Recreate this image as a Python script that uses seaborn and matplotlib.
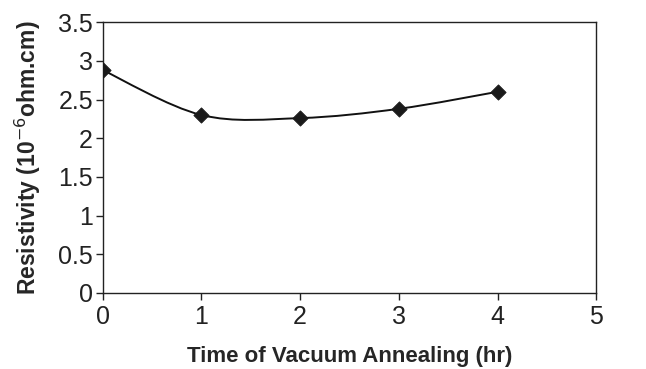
import numpy as np
import pandas as pd
import matplotlib
matplotlib.use("Agg")
import matplotlib.pyplot as plt
from matplotlib.path import Path
from matplotlib.patches import PathPatch
import seaborn as sns

hours = [0, 1, 2, 3, 4]
resistivity = [2.88, 2.30, 2.26, 2.38, 2.60]
x_ticks = [0, 1, 2, 3, 4, 5]
y_ticks = [0, 0.5, 1, 1.5, 2, 2.5, 3, 3.5]
y_tick_labels = ["0", "0.5", "1", "1.5", "2", "2.5", "3", "3.5"]

sns.set_style("white")
plt.rcParams["font.family"] = ["Liberation Sans", "DejaVu Sans"]

df = pd.DataFrame({"t": hours, "r": resistivity})

fig = plt.figure(figsize=(6.46, 3.69), dpi=100)
ax = fig.add_axes([0.159, 0.206, 0.764, 0.734])

# Smoothed connecting line (Excel-style Bezier through points)
xs = np.array(hours, float)
ys = np.array(resistivity, float)
n = len(xs)
verts = [(xs[0], ys[0])]
codes = [Path.MOVETO]
for i in range(n - 1):
    p0 = (xs[i - 1], ys[i - 1]) if i > 0 else (xs[i], ys[i])
    p1 = (xs[i], ys[i])
    p2 = (xs[i + 1], ys[i + 1])
    p3 = (xs[i + 2], ys[i + 2]) if i + 2 < n else p2
    c1 = (p1[0] + (p2[0] - p0[0]) / 6, p1[1] + (p2[1] - p0[1]) / 6)
    c2 = (p2[0] - (p3[0] - p1[0]) / 6, p2[1] - (p3[1] - p1[1]) / 6)
    verts += [c1, c2, p2]
    codes += [Path.CURVE4] * 3
ax.add_patch(PathPatch(Path(verts, codes), fill=False, edgecolor="#111111", lw=1.4, zorder=2))

sns.scatterplot(data=df, x="t", y="r", ax=ax, marker="D", s=60, color="#1a1a1a",
                edgecolor="#1a1a1a", zorder=3, legend=False)

ax.set_xlim(0, 5)
ax.set_ylim(0, 3.5)
ax.set_xticks(x_ticks)
ax.set_yticks(y_ticks)
ax.set_yticklabels(y_tick_labels)
ax.tick_params(axis="both", labelsize=18, colors="#222222", length=5, width=1,
               direction="out", bottom=True, left=True)
ax.tick_params(axis="y", pad=2)
ax.tick_params(axis="x", pad=4)
for s in ax.spines.values():
    s.set_color("#222222")
    s.set_linewidth(1.0)

ax.set_xlabel("Time of Vacuum Annealing (hr)", fontsize=16, fontweight="bold", labelpad=12)
ax.set_ylabel("Resistivity (10$^{-6}$ohm.cm)", fontsize=16.5, fontweight="bold", labelpad=11)

fig.savefig("out.png", dpi=100, facecolor="white")
